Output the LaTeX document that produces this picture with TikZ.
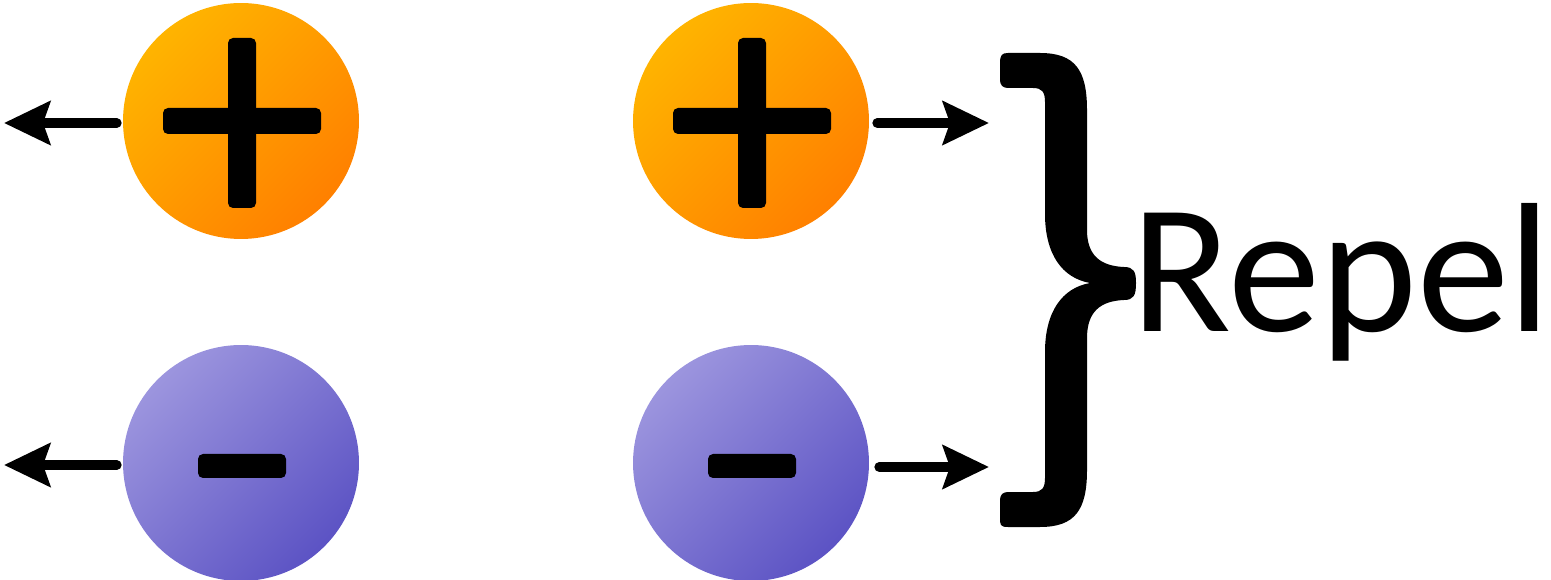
\documentclass[tikz,border=0pt]{standalone}
\usepackage{fontspec}
\setmainfont{Carlito}
\usepackage{tikz}
\usetikzlibrary{positioning, arrows.meta}
\definecolor{OrangeLight}{HTML}{FFB400}
\definecolor{OrangeDark}{HTML}{FF8000}
\definecolor{PurpleLight}{HTML}{9C95DE}
\definecolor{PurpleDark}{HTML}{5C53C4}
\tikzset{
  charge/.style={circle, minimum size=4.72cm, inner sep=0pt},
  poscharge/.style={charge, top color=OrangeLight, bottom color=OrangeDark, shading angle=45},
  negcharge/.style={charge, top color=PurpleLight, bottom color=PurpleDark, shading angle=45},
  signbar/.style={fill=black, rounded corners=0.1cm},
  push/.style={line width=0.2cm, line cap=round,
    -{Stealth[length=0.92cm, width=0.86cm, inset=0.14cm]}},
}

\begin{document}
\begin{tikzpicture}[x=0.02cm, y=-0.02cm]
            \useasboundingbox (0,0) rectangle (1551,580);
            % charges
            \node[poscharge] (pa) at (241,121) {};
            \node[poscharge] (pb) at (751,121) {};
            \node[negcharge] (ma) at (241,463) {};
            \node[negcharge] (mb) at (751,463) {};
            % signs
            \foreach \c in {pa, pb} {
                \fill[signbar] ([shift={(-78,-13)}]\c.center) rectangle ([shift={(80,13)}]\c.center);
                \fill[signbar] ([shift={(-13,-83)}]\c.center) rectangle ([shift={(15,87)}]\c.center);
            }
            \foreach \c in {ma, mb} {
                \fill[signbar] ([shift={(-43,-9)}]\c.center) rectangle ([shift={(45,15)}]\c.center);
            }
            % forces
            \coordinate (pal) at (4,123);
            \coordinate (mal) at (4,465);
            \coordinate (pbr) at (989,123);
            \coordinate (mbr) at (989,467);
            \draw[push] ([shift={(-6,2)}]pa.west) -- (pal);
            \draw[push] ([shift={(-6,2)}]ma.west) -- (mal);
            \draw[push] ([shift={(8,2)}]pb.east) -- (pbr);
            \draw[push] ([shift={(10,4)}]mb.east) -- (mbr);
            % brace
            \fill (1008,53) -- (1040,53)
                .. controls (1075,53) and (1087,70) .. (1087,110) -- (1087,230)
                .. controls (1087,255) and (1100,266) .. (1124,267)
                .. controls (1134,267) and (1136,272) .. (1136,283)
                .. controls (1136,295) and (1134,300) .. (1124,300)
                .. controls (1100,301) and (1087,312) .. (1087,338) -- (1087,470)
                .. controls (1087,510) and (1075,527) .. (1040,527) -- (1008,527)
                .. controls (1000,527) and (1000,525) .. (1000,517) -- (1000,502)
                .. controls (1000,494) and (1002,492) .. (1010,492) -- (1033,492)
                .. controls (1042,492) and (1045,488) .. (1045,478) -- (1045,352)
                .. controls (1045,312) and (1062,288) .. (1090,283)
                .. controls (1062,278) and (1045,254) .. (1045,214) -- (1045,102)
                .. controls (1045,92) and (1042,88) .. (1033,88) -- (1010,88)
                .. controls (1002,88) and (1000,86) .. (1000,78) -- (1000,63)
                .. controls (1000,55) and (1002,53) .. (1008,53) -- cycle;
            % label
            \node[anchor=base west, inner sep=0pt,
                  font=\fontsize{105}{105}\selectfont] (repel) at (1131,332) {Repel\kern-0.15em};
        \end{tikzpicture}
\end{document}
